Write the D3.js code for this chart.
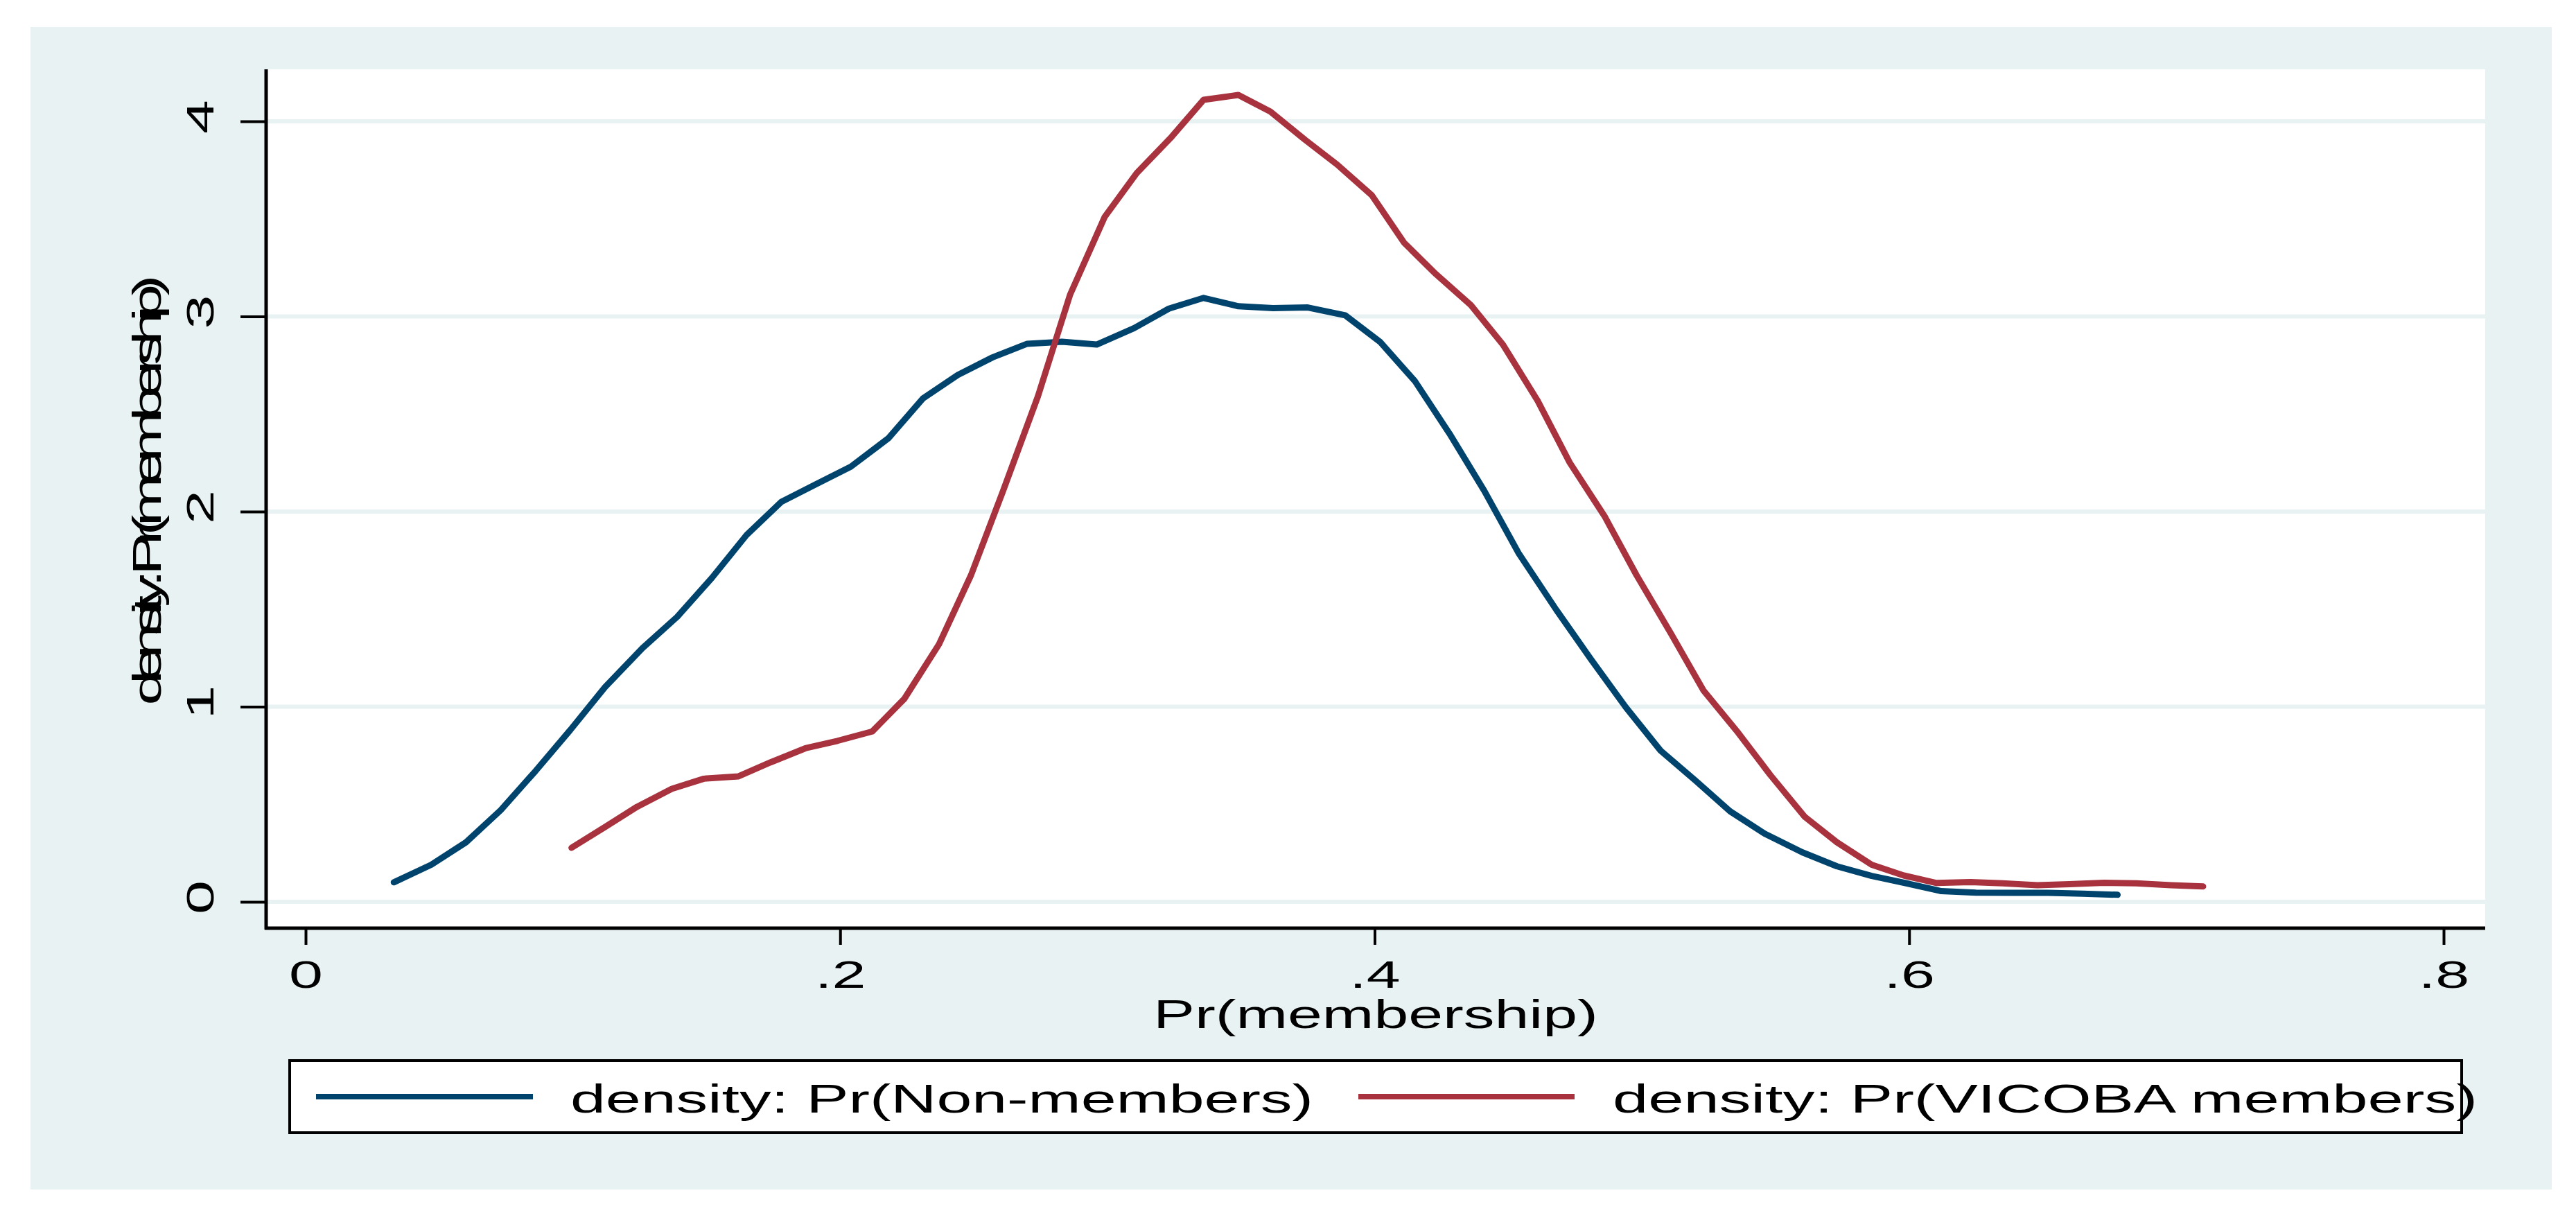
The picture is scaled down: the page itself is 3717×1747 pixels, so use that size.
<!DOCTYPE html>
<html>
<head>
<meta charset="utf-8">
<script src="https://cdn.jsdelivr.net/npm/d3@7"></script>
<style>
  body { margin: 0; background: #ffffff; }
  svg { display: block; }
</style>
</head>
<body>
<script>
const WIDTH  = 3717;
const HEIGHT = 1747;
const FONT   = "'Liberation Sans', Arial, Helvetica, sans-serif";
// Stata export stretches glyphs horizontally
const STRETCH = 1.57;

// Kernel density, non-members (50 points)
const nonX = [0.033, 0.047, 0.060, 0.073, 0.086, 0.099, 0.112, 0.126, 0.139, 0.152,
              0.165, 0.178, 0.191, 0.204, 0.218, 0.231, 0.244, 0.257, 0.270, 0.283,
              0.296, 0.310, 0.323, 0.336, 0.349, 0.362, 0.375, 0.389, 0.402, 0.415,
              0.428, 0.441, 0.454, 0.468, 0.481, 0.494, 0.507, 0.520, 0.533, 0.546,
              0.560, 0.573, 0.586, 0.599, 0.612, 0.625, 0.639, 0.652, 0.665, 0.678];
const nonY = [0.10, 0.19, 0.305, 0.47, 0.67, 0.88, 1.10, 1.30, 1.46, 1.66,
              1.88, 2.05, 2.14, 2.23, 2.375, 2.58, 2.70, 2.79, 2.86, 2.87,
              2.856, 2.94, 3.04, 3.095, 3.052, 3.043, 3.046, 3.006, 2.87, 2.67,
              2.40, 2.107, 1.784, 1.496, 1.242, 0.997, 0.775, 0.622, 0.464, 0.349,
              0.254, 0.182, 0.133, 0.095, 0.055, 0.047, 0.046, 0.046, 0.042, 0.036];

// Kernel density, VICOBA members (50 points)
const memX = [0.0995, 0.112, 0.124, 0.137, 0.149, 0.162, 0.174, 0.187, 0.199, 0.212,
              0.224, 0.237, 0.249, 0.261, 0.274, 0.286, 0.299, 0.311, 0.324, 0.336,
              0.349, 0.361, 0.374, 0.386, 0.399, 0.411, 0.423, 0.436, 0.448, 0.461,
              0.473, 0.486, 0.498, 0.511, 0.523, 0.536, 0.548, 0.561, 0.573, 0.586,
              0.598, 0.610, 0.623, 0.635, 0.648, 0.660, 0.673, 0.685, 0.698, 0.710];
const memY = [0.277, 0.383, 0.487, 0.579, 0.631, 0.643, 0.715, 0.787, 0.825, 0.873,
              1.04, 1.32, 1.675, 2.107, 2.59, 3.11, 3.51, 3.735, 3.92, 4.11,
              4.135, 4.05, 3.905, 3.778, 3.62, 3.378, 3.216, 3.058, 2.856, 2.568,
              2.251, 1.977, 1.674, 1.372, 1.084, 0.867, 0.651, 0.435, 0.305, 0.19,
              0.135, 0.097, 0.101, 0.095, 0.085, 0.091, 0.098, 0.095, 0.085, 0.079];

const xTicks = [0, 0.2, 0.4, 0.6, 0.8];
const xTickLabels = ["0", ".2", ".4", ".6", ".8"];
const yTicks = [0, 1, 2, 3, 4];

const seriesNames  = ["density: Pr(Non-members)", "density: Pr(VICOBA members)"];
const seriesColors = ["#00446e", "#a8323e"];

const xTitle = "Pr(membership)";
const yTitle = "density: Pr(membership)";

// plot region (white) in pixels
const PLOT = { left: 384, right: 3586, top: 100, bottom: 1339 };

function stretchText(sel) {
  sel.each(function () {
    const w = this.getComputedTextLength();
    d3.select(this)
      .attr("textLength", w * STRETCH)
      .attr("lengthAdjust", "spacingAndGlyphs");
  });
}

const svg = d3.select("body").append("svg")
    .attr("width", WIDTH)
    .attr("height", HEIGHT);

// Outer graph region
svg.append("rect")
    .attr("x", 44).attr("y", 39)
    .attr("width", 3682 - 44).attr("height", 1716 - 39)
    .style("fill", "#e8f2f2");

// Plot region
svg.append("rect")
    .attr("x", PLOT.left).attr("y", PLOT.top)
    .attr("width", PLOT.right - PLOT.left)
    .attr("height", PLOT.bottom - PLOT.top)
    .style("fill", "#ffffff");

const xScale = d3.scaleLinear().domain([0, 0.8]).range([441, 3526]);
const yScale = d3.scaleLinear().domain([0, 4]).range([1301, 175]);

// Gridlines
svg.append("g").selectAll("line")
    .data(yTicks)
    .enter()
    .append("line")
      .attr("x1", PLOT.left)
      .attr("x2", PLOT.right)
      .attr("y1", d => yScale(d))
      .attr("y2", d => yScale(d))
      .style("stroke", "#e8f2f2")
      .style("stroke-width", 6);

// Density curves
const line = d3.line()
    .x(d => xScale(d[0]))
    .y(d => yScale(d[1]));

const series = [
  d3.zip(nonX, nonY),
  d3.zip(memX, memY)
];

svg.append("g").selectAll("path")
    .data(series)
    .enter()
    .append("path")
      .attr("d", d => line(d))
      .style("fill", "none")
      .style("stroke", (d, i) => seriesColors[i])
      .style("stroke-width", 9)
      .style("stroke-linejoin", "round")
      .style("stroke-linecap", "round");

// X axis
const xAxis = d3.axisBottom(xScale)
    .tickValues(xTicks)
    .tickSize(24)
    .tickFormat((d, i) => xTickLabels[i]);

const gx = svg.append("g")
    .attr("transform", "translate(0," + PLOT.bottom + ")")
    .call(xAxis);
gx.select(".domain").remove();
gx.selectAll(".tick line").style("stroke", "#000").style("stroke-width", 4);
gx.selectAll(".tick text")
    .attr("y", 1425 - PLOT.bottom)
    .attr("dy", 0)
    .style("font-family", FONT)
    .style("font-size", "56px")
    .style("fill", "#000")
    .call(stretchText);

// Y axis
const yAxis = d3.axisLeft(yScale)
    .tickValues(yTicks)
    .tickSize(37)
    .tickFormat(d3.format("d"));

const gy = svg.append("g")
    .attr("transform", "translate(" + PLOT.left + ",0)")
    .call(yAxis);
gy.select(".domain").remove();
gy.selectAll(".tick line").style("stroke", "#000").style("stroke-width", 4);
gy.selectAll(".tick text")
    .attr("x", 0).attr("y", 0).attr("dy", 0)
    .attr("transform", "translate(-76,-7) rotate(-90)")
    .style("text-anchor", "middle")
    .style("font-family", FONT)
    .style("font-size", "56px")
    .style("fill", "#000")
    .call(stretchText);

// Axis lines
svg.append("line")
    .attr("x1", PLOT.left).attr("x2", PLOT.left)
    .attr("y1", PLOT.top).attr("y2", PLOT.bottom + 2)
    .style("stroke", "#000").style("stroke-width", 5);
svg.append("line")
    .attr("x1", PLOT.left - 2).attr("x2", PLOT.right)
    .attr("y1", PLOT.bottom).attr("y2", PLOT.bottom)
    .style("stroke", "#000").style("stroke-width", 5);

// Axis titles
svg.append("text")
    .attr("x", (PLOT.left + PLOT.right) / 2)
    .attr("y", 1483)
    .style("text-anchor", "middle")
    .style("font-family", FONT)
    .style("font-size", "57px")
    .text(xTitle)
    .call(stretchText);

// y title: glyphs stretched but advances squeezed, so letters overlap
svg.append("text")
    .attr("transform", "translate(232,707) rotate(-90) scale(" + STRETCH + ",1)")
    .style("text-anchor", "middle")
    .style("font-family", FONT)
    .style("font-size", "58px")
    .attr("textLength", 621 / STRETCH)
    .attr("lengthAdjust", "spacing")
    .text(yTitle);

// Legend
svg.append("rect")
    .attr("x", 418).attr("y", 1530)
    .attr("width", 3552 - 418).attr("height", 1634 - 1530)
    .style("fill", "#ffffff")
    .style("stroke", "#000")
    .style("stroke-width", 4);

const legendKeys = [
  { x1: 456, x2: 769, tx: 823, len: 1072 },
  { x1: 1960, x2: 2272, tx: 2327, len: 1248 }
];

const lg = svg.append("g").selectAll("g")
    .data(seriesNames)
    .enter()
    .append("g");

lg.append("line")
    .attr("x1", (d, i) => legendKeys[i].x1)
    .attr("x2", (d, i) => legendKeys[i].x2)
    .attr("y1", 1582).attr("y2", 1582)
    .style("stroke", (d, i) => seriesColors[i])
    .style("stroke-width", 8);

lg.append("text")
    .attr("x", (d, i) => legendKeys[i].tx)
    .attr("y", 1605)
    .attr("textLength", (d, i) => legendKeys[i].len)
    .attr("lengthAdjust", "spacingAndGlyphs")
    .style("font-family", FONT)
    .style("font-size", "58px")
    .text(d => d);
</script>
</body>
</html>
